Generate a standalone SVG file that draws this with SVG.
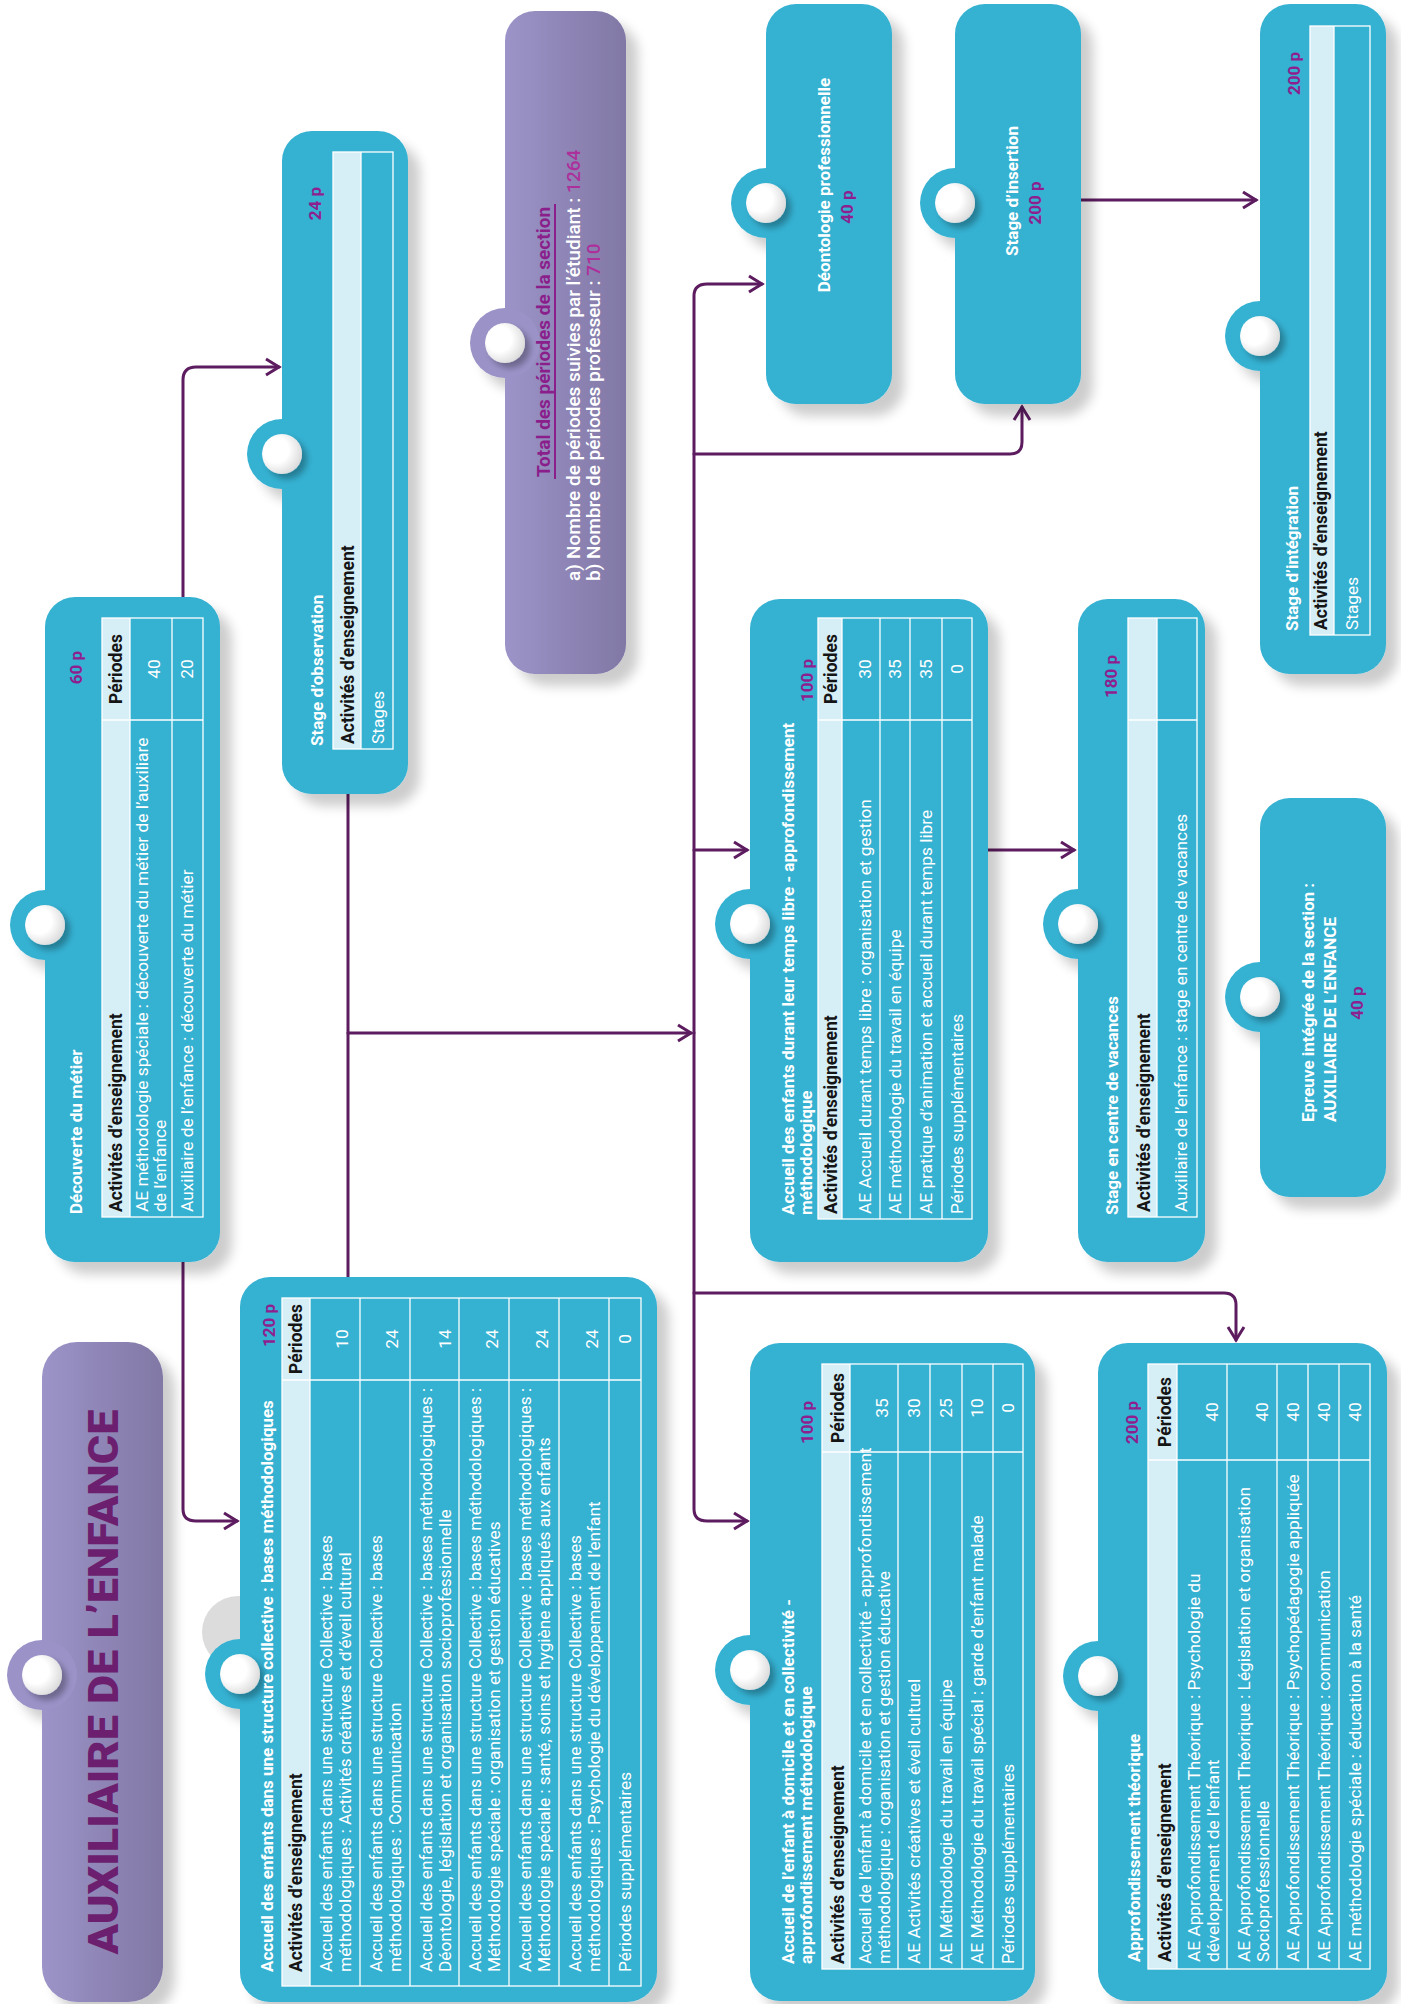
<svg xmlns="http://www.w3.org/2000/svg" width="1401" height="2004" viewBox="0 0 1401 2004">
<defs>
<style>
.box{fill:#35b1d2}
.hd{fill:#d6eef5}
.tb{fill:none;stroke:#fff;stroke-width:1.3}
.tl{stroke:#fff;stroke-width:1.3}
.ti{font-size:17px;font-weight:700;fill:#fff}
.bd{font-size:17.3px;fill:#fff}
.hh{font-size:17.5px;font-weight:700;fill:#151515}
.pp{font-size:17px;font-weight:700;fill:#8d1f8f}
.nm{font-size:17.3px;fill:#fff;text-anchor:middle}
.cn{fill:none;stroke:#5c1c5f;stroke-width:3;stroke-linecap:round;stroke-linejoin:round}
</style>
<marker id="ar" markerWidth="18" markerHeight="20" viewBox="0 0 18 20" refX="15" refY="10" orient="auto" markerUnits="userSpaceOnUse">
<path d="M2,2 L15,10 L2,18" fill="none" stroke="#5c1c5f" stroke-width="3"/>
</marker>
<filter id="sh" x="-15%" y="-15%" width="130%" height="140%">
<feGaussianBlur in="SourceAlpha" stdDeviation="6"/>
<feOffset dx="-12" dy="12"/>
<feComponentTransfer><feFuncA type="linear" slope="0.2"/></feComponentTransfer>
<feMerge><feMergeNode/><feMergeNode in="SourceGraphic"/></feMerge>
</filter>
<filter id="bs" x="-50%" y="-50%" width="200%" height="200%">
<feGaussianBlur in="SourceAlpha" stdDeviation="3"/>
<feOffset dx="-5" dy="5"/>
<feComponentTransfer><feFuncA type="linear" slope="0.3"/></feComponentTransfer>
<feMerge><feMergeNode/><feMergeNode in="SourceGraphic"/></feMerge>
</filter>
<radialGradient id="ball" cx="0.6" cy="0.35" r="0.7">
<stop offset="0.45" stop-color="#ffffff"/>
<stop offset="1" stop-color="#d8d8d8"/>
</radialGradient>
<linearGradient id="pg" x1="0" y1="0" x2="0" y2="1">
<stop offset="0" stop-color="#9c93c8"/>
<stop offset="1" stop-color="#8178a5"/>
</linearGradient>
</defs>
<rect width="1401" height="2004" fill="#fff"/>
<g transform="translate(0,2004) rotate(-90)" font-family="Roboto, 'Liberation Sans', sans-serif">

<g id="connectors">
<path class="cn" d="M1407 183 L1624 183 Q1637 183 1637 196 L1637 279" marker-end="url(#ar)"/>
<path class="cn" d="M742 183 L495 183 Q483 183 483 196 L483 237" marker-end="url(#ar)"/>
<path class="cn" d="M1210 348 L727 348"/>
<path class="cn" d="M971 348 L971 691" marker-end="url(#ar)"/>
<path class="cn" d="M971 694 L1708 694 Q1720 694 1720 707 L1720 762" marker-end="url(#ar)"/>
<path class="cn" d="M971 694 L495 694 Q483 694 483 707 L483 747" marker-end="url(#ar)"/>
<path class="cn" d="M1550 694 L1550 1010 Q1550 1022 1562 1022 L1597 1022" marker-end="url(#ar)"/>
<path class="cn" d="M1154 694 L1154 747" marker-end="url(#ar)"/>
<path class="cn" d="M711 694 L711 1224 Q711 1236 699 1236 L664 1236" marker-end="url(#ar)"/>
<path class="cn" d="M1154 988 L1154 1074" marker-end="url(#ar)"/>
<path class="cn" d="M1804 1081 L1804 1256" marker-end="url(#ar)"/>
</g>

<g id="title">
<g filter="url(#sh)"><rect x="2" y="42" width="660" height="121" rx="35" fill="url(#pg)"/>
<circle cx="329" cy="42" r="35" fill="#9b92c7"/></g>
<circle cx="329" cy="42" r="20" fill="url(#ball)" filter="url(#bs)"/>
<text x="322" y="118" text-anchor="middle" font-size="43" font-weight="900" fill="#6b1f6e" textLength="545" lengthAdjust="spacingAndGlyphs">AUXILIAIRE DE L’ENFANCE</text>
</g>

<g id="decouverte">
<g filter="url(#sh)"><rect class="box" x="742" y="45" width="665" height="175" rx="30"/>
<circle class="box" cx="1079" cy="45" r="35"/></g>
<circle cx="1079" cy="45" r="20" fill="url(#ball)" filter="url(#bs)"/>
<text class="ti" x="790" y="82">Découverte du métier</text>
<text class="pp" x="1353" y="82" text-anchor="end">60 p</text>
<rect class="hd" x="787" y="102" width="599" height="28"/>
<rect class="tb" x="787" y="102" width="599" height="101"/>
<line class="tl" x1="787" y1="130" x2="1386" y2="130"/>
<line class="tl" x1="787" y1="172" x2="1386" y2="172"/>
<line class="tl" x1="1284" y1="102" x2="1284" y2="203"/>
<text class="hh" x="792" y="122">Activités d’enseignement</text>
<text class="hh" x="1335" y="122" text-anchor="middle">Périodes</text>
<text class="bd" x="792" y="148" font-size="16.3">AE méthodologie spéciale : découverte du métier de l’auxiliare</text>
<text class="bd" x="792" y="166" font-size="16.3">de l’enfance</text>
<text class="nm" x="1335" y="160">40</text>
<text class="bd" x="792" y="193" font-size="16.3">Auxiliaire de l’enfance : découverte du métier</text>
<text class="nm" x="1335" y="193">20</text>
</g>

<g id="stage-observation">
<g filter="url(#sh)"><rect class="box" x="1210" y="282" width="663" height="126" rx="30"/>
<circle class="box" cx="1550" cy="282" r="35"/></g>
<circle cx="1550" cy="282" r="20" fill="url(#ball)" filter="url(#bs)"/>
<text class="ti" x="1258" y="323">Stage d’observation</text>
<text class="pp" x="1817" y="321" text-anchor="end">24 p</text>
<rect class="hd" x="1255" y="333" width="597" height="28"/>
<rect class="tb" x="1255" y="333" width="597" height="60"/>
<line class="tl" x1="1255" y1="361" x2="1852" y2="361"/>
<text class="hh" x="1260" y="354">Activités d’enseignement</text>
<text class="bd" x="1260" y="384">Stages</text>
</g>

<g id="total">
<g filter="url(#sh)"><rect x="1330" y="505" width="663" height="121" rx="30" fill="url(#pg)"/>
<circle cx="1661" cy="505" r="35" fill="#9b92c7"/></g>
<circle cx="1661" cy="505" r="20" fill="url(#ball)" filter="url(#bs)"/>
<text x="1662" y="550" text-anchor="middle" font-size="19" font-weight="700" fill="#8a1f8c">Total des périodes de la section</text>
<line x1="1525" y1="555" x2="1800" y2="555" stroke="#8a1f8c" stroke-width="2"/>
<text x="1423" y="580" font-size="19" font-weight="500" fill="#fff">a)</text>
<text x="1445" y="580" font-size="19" font-weight="500" fill="#fff">Nombre de périodes suivies par l’étudiant : <tspan fill="#ad2f9b">1264</tspan></text>
<text x="1423" y="600" font-size="19" font-weight="500" fill="#fff">b)</text>
<text x="1445" y="600" font-size="19" font-weight="500" fill="#fff">Nombre de périodes professeur : <tspan fill="#ad2f9b">710</tspan></text>
</g>

<g id="collective">
<circle cx="372" cy="238" r="36" fill="#dcdcdc"/>
<g filter="url(#sh)"><rect class="box" x="2" y="240" width="725" height="417" rx="30"/>
<circle class="box" cx="330" cy="240" r="35"/></g>
<circle cx="330" cy="240" r="20" fill="url(#ball)" filter="url(#bs)"/>
<text class="ti" x="32" y="273">Accueil des enfants dans une structure collective : bases méthodologiques</text>
<text class="pp" x="700" y="275" text-anchor="end">120 p</text>
<rect class="hd" x="18" y="282" width="688" height="28"/>
<rect class="tb" x="18" y="282" width="688" height="359"/>
<line class="tl" x1="18" y1="310" x2="706" y2="310"/>
<line class="tl" x1="18" y1="360" x2="706" y2="360"/>
<line class="tl" x1="18" y1="410" x2="706" y2="410"/>
<line class="tl" x1="18" y1="459" x2="706" y2="459"/>
<line class="tl" x1="18" y1="509" x2="706" y2="509"/>
<line class="tl" x1="18" y1="559" x2="706" y2="559"/>
<line class="tl" x1="18" y1="609" x2="706" y2="609"/>
<line class="tl" x1="624" y1="282" x2="624" y2="641"/>
<text class="hh" x="32" y="302">Activités d’enseignement</text>
<text class="hh" x="665" y="302" text-anchor="middle">Périodes</text>
<text class="bd" x="32" y="332">Accueil des enfants dans une structure Collective : bases</text>
<text class="bd" x="32" y="351">méthodologiques : Activités créatives et d’éveil culturel</text>
<text class="nm" x="665" y="348">10</text>
<text class="bd" x="32" y="382">Accueil des enfants dans une structure Collective : bases</text>
<text class="bd" x="32" y="401">méthodologiques : Communication</text>
<text class="nm" x="665" y="398">24</text>
<text class="bd" x="32" y="432">Accueil des enfants dans une structure Collective : bases méthodologiques :</text>
<text class="bd" x="32" y="451">Déontologie, législation et organisation socioprofessionnelle</text>
<text class="nm" x="665" y="451">14</text>
<text class="bd" x="32" y="481">Accueil des enfants dans une structure Collective : bases méthodologiques :</text>
<text class="bd" x="32" y="500">Méthodologie spéciale : organisation et gestion éducatives</text>
<text class="nm" x="665" y="498">24</text>
<text class="bd" x="32" y="531">Accueil des enfants dans une structure Collective : bases méthodologiques :</text>
<text class="bd" x="32" y="550">Méthodologie spéciale : santé, soins et hygiène appliqués aux enfants</text>
<text class="nm" x="665" y="548">24</text>
<text class="bd" x="32" y="581">Accueil des enfants dans une structure Collective : bases</text>
<text class="bd" x="32" y="600">méthodologiques : Psychologie du développement de l’enfant</text>
<text class="nm" x="665" y="598">24</text>
<text class="bd" x="32" y="631">Périodes supplémentaires</text>
<text class="nm" x="665" y="631">0</text>
</g>

<g id="temps-libre">
<g filter="url(#sh)"><rect class="box" x="742" y="750" width="663" height="238" rx="30"/>
<circle class="box" cx="1080" cy="750" r="35"/></g>
<circle cx="1080" cy="750" r="20" fill="url(#ball)" filter="url(#bs)"/>
<text class="ti" x="789" y="794">Accueil des enfants durant leur temps libre - approfondissement</text>
<text class="ti" x="789" y="812">méthodologique</text>
<text class="pp" x="1345" y="813" text-anchor="end">100 p</text>
<rect class="hd" x="785" y="818" width="601" height="24"/>
<rect class="tb" x="785" y="818" width="601" height="154"/>
<line class="tl" x1="785" y1="842" x2="1386" y2="842"/>
<line class="tl" x1="785" y1="880" x2="1386" y2="880"/>
<line class="tl" x1="785" y1="910" x2="1386" y2="910"/>
<line class="tl" x1="785" y1="942" x2="1386" y2="942"/>
<line class="tl" x1="1284" y1="818" x2="1284" y2="972"/>
<text class="hh" x="790" y="837">Activités d’enseignement</text>
<text class="hh" x="1335" y="837" text-anchor="middle">Périodes</text>
<text class="bd" x="790" y="871">AE Accueil durant temps libre : organisation et gestion</text>
<text class="nm" x="1335" y="871">30</text>
<text class="bd" x="790" y="901">AE méthodologie du travail en équipe</text>
<text class="nm" x="1335" y="901">35</text>
<text class="bd" x="790" y="932">AE pratique d’animation et accueil durant temps libre</text>
<text class="nm" x="1335" y="932">35</text>
<text class="bd" x="790" y="963">Périodes supplémentaires</text>
<text class="nm" x="1335" y="963">0</text>
</g>

<g id="domicile">
<g filter="url(#sh)"><rect class="box" x="3" y="750" width="658" height="285" rx="30"/>
<circle class="box" cx="334" cy="750" r="35"/></g>
<circle cx="334" cy="750" r="20" fill="url(#ball)" filter="url(#bs)"/>
<text class="ti" x="40" y="794">Accueil de l’enfant à domicile et en collectivité -</text>
<text class="ti" x="40" y="812">approfondissement méthodologique</text>
<text class="pp" x="603" y="813" text-anchor="end">100 p</text>
<rect class="hd" x="35" y="822" width="605" height="28"/>
<rect class="tb" x="35" y="822" width="605" height="201"/>
<line class="tl" x1="35" y1="850" x2="640" y2="850"/>
<line class="tl" x1="35" y1="898" x2="640" y2="898"/>
<line class="tl" x1="35" y1="930" x2="640" y2="930"/>
<line class="tl" x1="35" y1="962" x2="640" y2="962"/>
<line class="tl" x1="35" y1="993" x2="640" y2="993"/>
<line class="tl" x1="552" y1="822" x2="552" y2="1023"/>
<text class="hh" x="40" y="844">Activités d’enseignement</text>
<text class="hh" x="596" y="844" text-anchor="middle">Périodes</text>
<text class="bd" x="40" y="871">Accueil de l’enfant à domicile et en collectivité - approfondissement</text>
<text class="bd" x="40" y="890">méthodologique : organisation et gestion éducative</text>
<text class="nm" x="596" y="888">35</text>
<text class="bd" x="40" y="920">AE Activités créatives et éveil culturel</text>
<text class="nm" x="596" y="920">30</text>
<text class="bd" x="40" y="952">AE Méthodologie du travail en équipe</text>
<text class="nm" x="596" y="952">25</text>
<text class="bd" x="40" y="983">AE Méthodologie du travail spécial : garde d’enfant malade</text>
<text class="nm" x="596" y="983">10</text>
<text class="bd" x="40" y="1014">Périodes supplémentaires</text>
<text class="nm" x="596" y="1014">0</text>
</g>

<g id="deontologie">
<g filter="url(#sh)"><rect class="box" x="1600" y="766" width="400" height="126" rx="30"/>
<circle class="box" cx="1801" cy="766" r="35"/></g>
<circle cx="1801" cy="766" r="20" fill="url(#ball)" filter="url(#bs)"/>
<text class="ti" x="1819" y="830" text-anchor="middle" font-size="18">Déontologie professionnelle</text>
<text class="pp" x="1797" y="853" text-anchor="middle" font-size="18">40 p</text>
</g>

<g id="stage-insertion">
<g filter="url(#sh)"><rect class="box" x="1600" y="955" width="400" height="126" rx="30"/>
<circle class="box" cx="1801" cy="955" r="35"/></g>
<circle cx="1801" cy="955" r="20" fill="url(#ball)" filter="url(#bs)"/>
<text class="ti" x="1813" y="1018" text-anchor="middle" font-size="18">Stage d’insertion</text>
<text class="pp" x="1801" y="1041" text-anchor="middle" font-size="18">200 p</text>
</g>

<g id="centre-vacances">
<g filter="url(#sh)"><rect class="box" x="742" y="1078" width="663" height="127" rx="30"/>
<circle class="box" cx="1080" cy="1078" r="35"/></g>
<circle cx="1080" cy="1078" r="20" fill="url(#ball)" filter="url(#bs)"/>
<text class="ti" x="789" y="1118">Stage en centre de vacances</text>
<text class="pp" x="1349" y="1117" text-anchor="end">180 p</text>
<rect class="hd" x="787" y="1128" width="599" height="29"/>
<rect class="tb" x="787" y="1128" width="599" height="69"/>
<line class="tl" x1="787" y1="1157" x2="1386" y2="1157"/>
<line class="tl" x1="1284" y1="1128" x2="1284" y2="1197"/>
<text class="hh" x="792" y="1150">Activités d’enseignement</text>
<text class="bd" x="792" y="1187">Auxiliaire de l’enfance : stage en centre de vacances</text>
</g>

<g id="approfondissement">
<g filter="url(#sh)"><rect class="box" x="3" y="1098" width="658" height="289" rx="30"/>
<circle class="box" cx="328" cy="1098" r="35"/></g>
<circle cx="328" cy="1098" r="20" fill="url(#ball)" filter="url(#bs)"/>
<text class="ti" x="42" y="1140">Approfondissement théorique</text>
<text class="pp" x="603" y="1138" text-anchor="end">200 p</text>
<rect class="hd" x="35" y="1148" width="605" height="29"/>
<rect class="tb" x="35" y="1148" width="605" height="222"/>
<line class="tl" x1="35" y1="1177" x2="640" y2="1177"/>
<line class="tl" x1="35" y1="1227" x2="640" y2="1227"/>
<line class="tl" x1="35" y1="1277" x2="640" y2="1277"/>
<line class="tl" x1="35" y1="1308" x2="640" y2="1308"/>
<line class="tl" x1="35" y1="1339" x2="640" y2="1339"/>
<line class="tl" x1="544" y1="1148" x2="544" y2="1370"/>
<text class="hh" x="42" y="1171">Activités d’enseignement</text>
<text class="hh" x="592" y="1171" text-anchor="middle">Périodes</text>
<text class="bd" x="42" y="1200">AE Approfondissement  Théorique : Psychologie du</text>
<text class="bd" x="42" y="1219">développement de l’enfant</text>
<text class="nm" x="592" y="1218">40</text>
<text class="bd" x="42" y="1250">AE Approfondissement  Théorique : Législation et organisation</text>
<text class="bd" x="42" y="1269">Socioprofessionnelle</text>
<text class="nm" x="592" y="1268">40</text>
<text class="bd" x="42" y="1299">AE Approfondissement  Théorique : Psychopédagogie appliquée</text>
<text class="nm" x="592" y="1299">40</text>
<text class="bd" x="42" y="1330">AE Approfondissement  Théorique : communication</text>
<text class="nm" x="592" y="1330">40</text>
<text class="bd" x="42" y="1361">AE méthodologie spéciale : éducation à la santé</text>
<text class="nm" x="592" y="1361">40</text>
</g>

<g id="epreuve">
<g filter="url(#sh)"><rect class="box" x="807" y="1260" width="399" height="126" rx="30"/>
<circle class="box" cx="1007" cy="1260" r="35"/></g>
<circle cx="1007" cy="1260" r="20" fill="url(#ball)" filter="url(#bs)"/>
<text class="ti" x="882" y="1314" font-size="18">Epreuve intégrée de la section :</text>
<text class="ti" x="882" y="1336" font-size="18">AUXILIAIRE DE L’ENFANCE</text>
<text class="pp" x="1001" y="1363" text-anchor="middle" font-size="18">40 p</text>
</g>

<g id="stage-integration">
<g filter="url(#sh)"><rect class="box" x="1330" y="1260" width="670" height="126" rx="30"/>
<circle class="box" cx="1668" cy="1260" r="35"/></g>
<circle cx="1668" cy="1260" r="20" fill="url(#ball)" filter="url(#bs)"/>
<text class="ti" x="1373" y="1298">Stage d’intégration</text>
<text class="pp" x="1952" y="1300" text-anchor="end">200 p</text>
<rect class="hd" x="1369" y="1310" width="609" height="24"/>
<rect class="tb" x="1369" y="1310" width="609" height="60"/>
<line class="tl" x1="1369" y1="1334" x2="1978" y2="1334"/>
<text class="hh" x="1374" y="1327">Activités d’enseignement</text>
<text class="bd" x="1374" y="1358">Stages</text>
</g>

</g>
</svg>
